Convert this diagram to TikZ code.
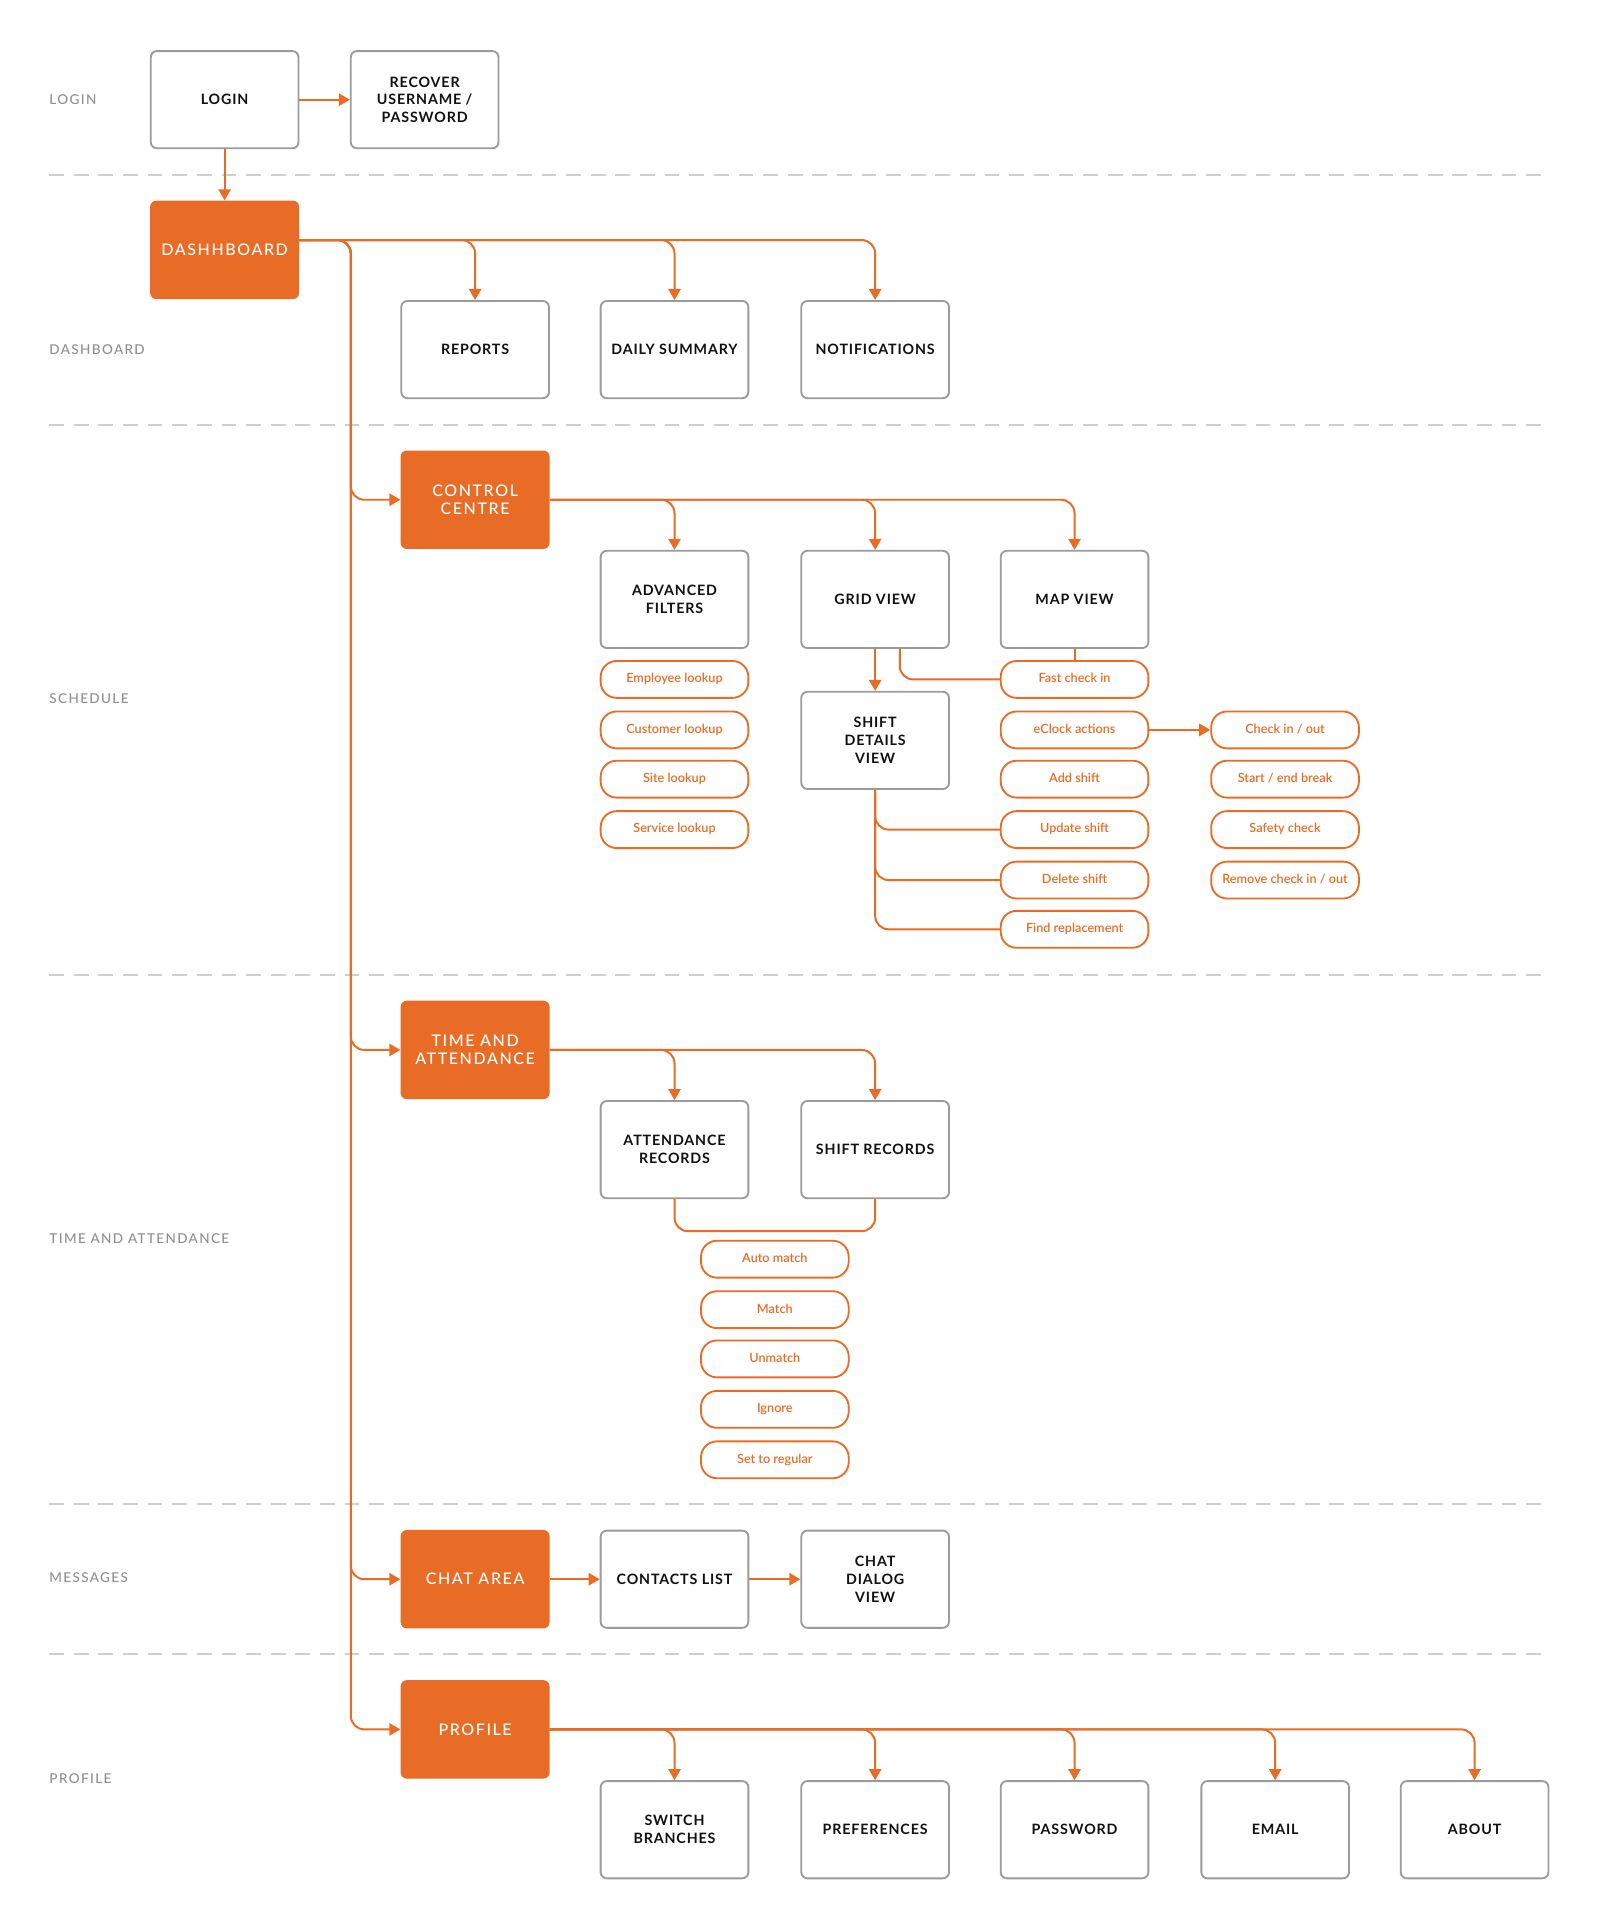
\documentclass[tikz,border=0pt]{standalone}
\usepackage{fontspec}
\setmainfont{Lato}
\newfontfamily\boxfont{Lato}[LetterSpace=6]
\newfontfamily\obfont{Lato Medium}[LetterSpace=10]
\newfontfamily\rowfont{Lato Medium}[LetterSpace=10]
\newfontfamily\pillfont{Lato Semibold}
\usetikzlibrary{arrows.meta,calc}
\definecolor{org}{HTML}{E86C25}
\definecolor{bgray}{HTML}{9B9B9B}
\definecolor{dgray}{HTML}{CFCFCF}
\definecolor{lgray}{HTML}{8F8F8F}
\definecolor{ink}{HTML}{111111}
\begin{document}
\begin{tikzpicture}[x=1pt,y=-1pt,
 box/.style={draw=bgray, line width=1.5pt, fill=white, rounded corners=5pt, minimum width=120pt, minimum height=79pt, align=center, inner sep=0pt, text=ink, font=\boxfont\bfseries\fontsize{11.6}{14.5}\selectfont},
 obox/.style={fill=org, rounded corners=5pt, minimum width=121pt, minimum height=80pt, align=center, inner sep=0pt, text=white, font=\obfont\fontsize{13}{15}\selectfont},
 pill/.style={draw=org, line width=1.5pt, fill=white, rounded corners=13pt, minimum width=120pt, minimum height=30pt, inner sep=0pt, text=org, font=\pillfont\fontsize{10.3}{11}\selectfont, text height=7.5pt, text depth=2pt},
 rowlab/.style={anchor=west, inner sep=0pt, text=lgray, font=\rowfont\fontsize{11}{12}\selectfont},
 conn/.style={draw=org, line width=1.6pt, rounded corners=11pt},
 arr/.style={conn, -{Triangle[length=9pt,width=10pt]}},
 sepline/.style={draw=dgray, line width=1.5pt, dash pattern=on 12pt off 8pt},
]
\useasboundingbox[fill=white] (0,0) rectangle (1300,1568);

% separators
\foreach \yy in {142,345,792,1222,1344} \draw[sepline] (40,\yy) -- (1255,\yy);

% row labels
\node[rowlab] (lLogin) at (40,81) {LOGIN};
\node[rowlab] (lDash) at (40,284) {DASHBOARD};
\node[rowlab] (lSched) at (40,568) {SCHEDULE};
\node[rowlab] (lTA) at (40,1006) {TIME AND ATTENDANCE};
\node[rowlab] (lMsg) at (40,1282) {MESSAGES};
\node[rowlab] (lProf) at (40,1445) {PROFILE};

\coordinate (trunk) at (285,0);

% login
\node[box] (login) at (182.5,81) {LOGIN};
\node[box] (recover) at (345,81) {RECOVER\\USERNAME /\\PASSWORD};

% dashboard
\node[obox] (dash) at (182.5,203) {DASHHBOARD};
\node[box] (reports) at (386,284) {REPORTS};
\node[box] (daily) at (548,284) {DAILY SUMMARY};
\node[box] (notif) at (711,284) {NOTIFICATIONS};

% schedule
\node[obox] (cc) at (386,406) {CONTROL\\CENTRE};
\node[box] (adv) at (548,487) {ADVANCED\\FILTERS};
\node[box] (grid) at (711,487) {GRID VIEW};
\node[box] (map) at (873,487) {MAP VIEW};
\node[pill] (emp) at (548,552) {Employee lookup};
\node[pill] (cust) at (548,593) {Customer lookup};
\node[pill] (site) at (548,633) {Site lookup};
\node[pill] (serv) at (548,674) {Service lookup};
\node[box] (sdv) at (711,601.5) {SHIFT\\DETAILS\\VIEW};
\node[pill] (fast) at (873,552) {Fast check in};
\node[pill] (eclock) at (873,593) {eClock actions};
\node[pill] (add) at (873,633) {Add shift};
\node[pill] (upd) at (873,674) {Update shift};
\node[pill] (del) at (873,715) {Delete shift};
\node[pill] (find) at (873,755) {Find replacement};
\node[pill] (checkio) at (1044,593) {Check in / out};
\node[pill] (brk) at (1044,633) {Start / end break};
\node[pill] (safety) at (1044,674) {Safety check};
\node[pill] (remove) at (1044,715) {Remove check in / out};

% time and attendance
\node[obox] (ta) at (386,853) {TIME AND\\ATTENDANCE};
\node[box] (attrec) at (548,934) {ATTENDANCE\\RECORDS};
\node[box] (shrec) at (711,934) {SHIFT RECORDS};
\node[pill] (auto) at (629.5,1023) {Auto match};
\node[pill] (match) at (629.5,1064) {Match};
\node[pill] (unmatch) at (629.5,1104) {Unmatch};
\node[pill] (ignore) at (629.5,1145) {Ignore};
\node[pill] (regular) at (629.5,1186) {Set to regular};

% messages
\node[obox] (chat) at (386,1283) {CHAT AREA};
\node[box] (contacts) at (548,1283) {CONTACTS LIST};
\node[box] (dialog) at (711,1283) {CHAT\\DIALOG\\VIEW};

% profile
\node[obox] (prof) at (386,1405) {PROFILE};
\node[box] (switch) at (548,1486.5) {SWITCH\\BRANCHES};
\node[box] (prefs) at (711,1486.5) {PREFERENCES};
\node[box] (pwd) at (873,1486.5) {PASSWORD};
\node[box] (email) at (1036,1486.5) {EMAIL};
\node[box] (about) at (1198,1486.5) {ABOUT};

% connectors: login
\draw[arr] (login.east) -- (recover.west);
\draw[arr] (login.south) -- (dash.north);

% dashboard
\draw[arr] ([yshift=8pt]dash.east) -| (reports.north);
\draw[arr] ([yshift=8pt]dash.east) -| (daily.north);
\draw[arr] ([yshift=8pt]dash.east) -| (notif.north);

% trunk
\draw[arr] ([yshift=8pt]dash.east) -| (trunk |- cc.west) -- (cc.west);
\draw[arr] ([yshift=8pt]dash.east) -| (trunk |- ta.west) -- (ta.west);
\draw[arr] ([yshift=8pt]dash.east) -| (trunk |- chat.west) -- (chat.west);
\draw[arr] ([yshift=8pt]dash.east) -| (trunk |- prof.west) -- (prof.west);

% control centre
\draw[arr] (cc.east) -| (adv.north);
\draw[arr] (cc.east) -| (grid.north);
\draw[arr] (cc.east) -| (map.north);
\draw[arr] (grid.south) -- (sdv.north);
\draw[conn] ([xshift=20pt]grid.south) |- (fast.west);
\draw[conn] (map.south) -- (fast.north);
\draw[arr] (eclock.east) -- (checkio.west);
\draw[conn] (sdv.south) |- (upd.west);
\draw[conn] (sdv.south) |- (del.west);
\draw[conn] (sdv.south) |- (find.west);

% time and attendance
\draw[arr] (ta.east) -| (attrec.north);
\draw[arr] (ta.east) -| (shrec.north);
\draw[conn] (attrec.south) -- ++(0,26) -| (shrec.south);

% messages
\draw[arr] (chat.east) -- (contacts.west);
\draw[arr] (contacts.east) -- (dialog.west);

% profile
\draw[arr] (prof.east) -| (switch.north);
\draw[arr] (prof.east) -| (prefs.north);
\draw[arr] (prof.east) -| (pwd.north);
\draw[arr] (prof.east) -| (email.north);
\draw[arr] (prof.east) -| (about.north);
\end{tikzpicture}
\end{document}
